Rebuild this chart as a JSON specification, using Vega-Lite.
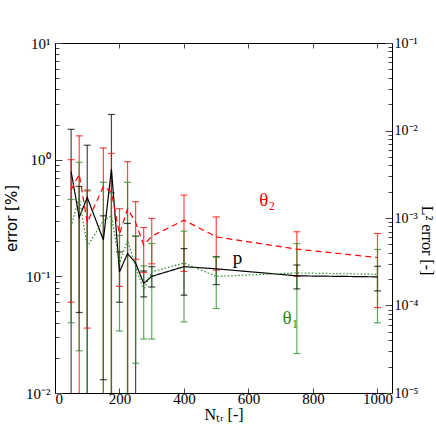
{
  "$schema": "https://vega.github.io/schema/vega-lite/v6.json",
  "width": 337,
  "height": 350,
  "autosize": {"type": "none"},
  "padding": {"left": 55, "top": 43, "right": 44, "bottom": 43},
  "background": "white",
  "config": {"view": {"stroke": null}},
  "datasets": {
    "err": [
      {"N": 50, "s": "p", "m": 0.79, "lo": 0.001, "hi": 1.82},
      {"N": 75, "s": "p", "m": 0.32, "lo": 0.049, "hi": 0.59},
      {"N": 100, "s": "p", "m": 0.475, "lo": 0.001, "hi": 1.33},
      {"N": 150, "s": "p", "m": 0.205, "lo": 0.013, "hi": 0.33},
      {"N": 175, "s": "p", "m": 0.83, "lo": 0.001, "hi": 2.44},
      {"N": 200, "s": "p", "m": 0.109, "lo": 0.06, "hi": 0.162},
      {"N": 225, "s": "p", "m": 0.157, "lo": 0.001, "hi": 0.284},
      {"N": 250, "s": "p", "m": 0.13, "lo": 0.001, "hi": 0.221},
      {"N": 275, "s": "p", "m": 0.087, "lo": 0.0667, "hi": 0.111},
      {"N": 300, "s": "p", "m": 0.1, "lo": 0.081, "hi": 0.121},
      {"N": 400, "s": "p", "m": 0.121, "lo": 0.069, "hi": 0.173},
      {"N": 500, "s": "p", "m": 0.116, "lo": 0.085, "hi": 0.147},
      {"N": 750, "s": "p", "m": 0.101, "lo": 0.078, "hi": 0.125},
      {"N": 1000, "s": "p", "m": 0.099, "lo": 0.075, "hi": 0.122},
      {"N": 50, "s": "t2", "m": 0.55, "lo": 0.06, "hi": 1.0},
      {"N": 75, "s": "t2", "m": 0.75, "lo": 0.001, "hi": 1.6},
      {"N": 100, "s": "t2", "m": 0.29, "lo": 0.036, "hi": 0.54},
      {"N": 150, "s": "t2", "m": 0.59, "lo": 0.001, "hi": 1.26},
      {"N": 175, "s": "t2", "m": 0.53, "lo": 0.001, "hi": 1.13},
      {"N": 200, "s": "t2", "m": 0.23, "lo": 0.082, "hi": 0.38},
      {"N": 225, "s": "t2", "m": 0.38, "lo": 0.001, "hi": 0.96},
      {"N": 250, "s": "t2", "m": 0.29, "lo": 0.14, "hi": 0.436},
      {"N": 275, "s": "t2", "m": 0.185, "lo": 0.108, "hi": 0.262},
      {"N": 300, "s": "t2", "m": 0.221, "lo": 0.128, "hi": 0.314},
      {"N": 400, "s": "t2", "m": 0.303, "lo": 0.11, "hi": 0.497},
      {"N": 500, "s": "t2", "m": 0.218, "lo": 0.113, "hi": 0.323},
      {"N": 750, "s": "t2", "m": 0.171, "lo": 0.1, "hi": 0.241},
      {"N": 1000, "s": "t2", "m": 0.145, "lo": 0.054, "hi": 0.233},
      {"N": 50, "s": "t1", "m": 0.266, "lo": 0.04, "hi": 0.456},
      {"N": 75, "s": "t1", "m": 0.48, "lo": 0.023, "hi": 0.95},
      {"N": 100, "s": "t1", "m": 0.18, "lo": 0.001, "hi": 0.55},
      {"N": 150, "s": "t1", "m": 0.3, "lo": 0.001, "hi": 0.64},
      {"N": 175, "s": "t1", "m": 0.33, "lo": 0.001, "hi": 0.52},
      {"N": 200, "s": "t1", "m": 0.129, "lo": 0.034, "hi": 0.224},
      {"N": 225, "s": "t1", "m": 0.204, "lo": 0.001, "hi": 0.64},
      {"N": 250, "s": "t1", "m": 0.121, "lo": 0.018, "hi": 0.22},
      {"N": 275, "s": "t1", "m": 0.076, "lo": 0.029, "hi": 0.123},
      {"N": 300, "s": "t1", "m": 0.109, "lo": 0.029, "hi": 0.191},
      {"N": 400, "s": "t1", "m": 0.13, "lo": 0.0407, "hi": 0.244},
      {"N": 500, "s": "t1", "m": 0.1, "lo": 0.053, "hi": 0.147},
      {"N": 750, "s": "t1", "m": 0.107, "lo": 0.0218, "hi": 0.191},
      {"N": 1000, "s": "t1", "m": 0.104, "lo": 0.04, "hi": 0.17}
    ],
    "labels": [
      {"N": 658, "v": 0.45, "s": "t2", "txt": "θ₂"},
      {"N": 566, "v": 0.143, "s": "p", "txt": "p"},
      {"N": 730, "v": 0.044, "s": "t1", "txt": "θ₁"}
    ],
    "right": [
      {"N": 0, "L": 0.00001},
      {"N": 1000, "L": 0.1}
    ]
  },
  "layer": [
    {
      "data": {"name": "err"},
      "encoding": {
        "x": {
          "field": "N", "type": "quantitative",
          "scale": {"domain": [0, 1045], "nice": false, "zero": false},
          "axis": {
            "orient": "bottom", "title": "Nₜᵣ [-]", "values": [0, 200, 400, 600, 800, 1000], "format": "d",
            "titleFont": "Liberation Serif", "titleFontSize": 16, "titleFontWeight": "normal", "titleColor": "black",
            "labelFont": "Liberation Serif", "labelFontSize": 15, "labelColor": "black",
            "tickSize": -5, "labelPadding": 3, "tickColor": "#444", "domainColor": "black", "grid": false, "titlePadding": 0
          }
        },
        "color": {
          "field": "s", "type": "nominal",
          "scale": {"domain": ["p", "t2", "t1"], "range": ["#000000", "#ff0000", "#228b22"]},
          "legend": null
        }
      },
      "layer": [
        {
          "mark": {"type": "rule", "clip": true, "opacity": 0.72, "strokeWidth": 1.2},
          "encoding": {
            "y": {
              "field": "lo", "type": "quantitative",
              "scale": {"type": "log", "domain": [0.01, 10], "nice": false},
              "axis": {
                "orient": "left", "title": "error [%]",
                "titleFont": "DejaVu Sans", "titleFontSize": 15, "titleFontWeight": "normal", "titleColor": "black",
                "values": [0.01, 0.02, 0.03, 0.04, 0.05, 0.06, 0.07, 0.08, 0.09, 0.1, 0.2, 0.3, 0.4, 0.5, 0.6, 0.7, 0.8, 0.9, 1, 2, 3, 4, 5, 6, 7, 8, 9, 10],
                "labelExpr": "datum.value == 10 ? '10¹' : datum.value == 1 ? '10⁰' : datum.value == 0.1 ? '10⁻¹' : datum.value == 0.01 ? '10⁻²' : ''",
                "labelFont": "Liberation Serif", "labelFontSize": 15, "labelColor": "black",
                "tickSize": {"condition": {"test": "indexof([0.01, 0.1, 1, 10], datum.value) >= 0", "value": -7}, "value": -4},
                "labelPadding": 12, "tickColor": "#444", "domainColor": "black", "grid": false, "titlePadding": 6
              }
            },
            "y2": {"field": "hi"}
          }
        },
        {
          "mark": {"type": "tick", "clip": true, "opacity": 0.72, "size": 7, "thickness": 1.2, "orient": "horizontal"},
          "encoding": {"y": {"field": "lo", "type": "quantitative"}}
        },
        {
          "mark": {"type": "tick", "clip": true, "opacity": 0.72, "size": 7, "thickness": 1.2, "orient": "horizontal"},
          "encoding": {"y": {"field": "hi", "type": "quantitative"}}
        },
        {
          "mark": {"type": "line", "clip": true, "strokeWidth": 1.2},
          "encoding": {
            "y": {"field": "m", "type": "quantitative"},
            "strokeDash": {
              "field": "s", "type": "nominal",
              "scale": {"domain": ["p", "t2", "t1"], "range": [[1, 0], [6, 4], [1.5, 2]]},
              "legend": null
            }
          }
        },
        {
          "data": {"name": "labels"},
          "mark": {"type": "text", "font": "Liberation Serif", "fontSize": 19, "align": "center", "baseline": "middle"},
          "encoding": {
            "y": {"field": "v", "type": "quantitative"},
            "text": {"field": "txt"}
          }
        }
      ]
    },
    {
      "data": {"name": "right"},
      "mark": {"type": "point", "opacity": 0},
      "encoding": {
        "x": {
          "field": "N", "type": "quantitative",
          "axis": {
            "orient": "top", "title": null, "labels": false, "values": [0, 200, 400, 600, 800, 1000],
            "tickSize": -5, "tickColor": "#444", "domainColor": "black", "grid": false
          }
        },
        "y": {
          "field": "L", "type": "quantitative",
          "scale": {"type": "log", "domain": [0.00001, 0.1], "nice": false},
          "axis": {
            "orient": "right", "title": "L² error [-]", "titleAngle": 90, "titleBaseline": "middle",
            "titleX": 34, "titleY": 197, "titleAlign": "center",
            "titleFont": "Liberation Serif", "titleFontSize": 16, "titleFontWeight": "normal", "titleColor": "black",
            "values": [0.00001, 0.00002, 0.00003, 0.00004, 0.00005, 0.00006, 0.00007, 0.00008, 0.00009, 0.0001, 0.0002, 0.0003, 0.0004, 0.0005, 0.0006, 0.0007, 0.0008, 0.0009, 0.001, 0.002, 0.003, 0.004, 0.005, 0.006, 0.007, 0.008, 0.009, 0.01, 0.02, 0.03, 0.04, 0.05, 0.06, 0.07, 0.08, 0.09, 0.1],
            "labelExpr": "datum.value == 0.1 ? '10⁻¹' : datum.value == 0.01 ? '10⁻²' : datum.value == 0.001 ? '10⁻³' : datum.value == 0.0001 ? '10⁻⁴' : datum.value == 0.00001 ? '10⁻⁵' : ''",
            "labelFont": "Liberation Serif", "labelFontSize": 14, "labelColor": "black",
            "tickSize": {"condition": {"test": "indexof([0.00001, 0.0001, 0.001, 0.01, 0.1], datum.value) >= 0", "value": -7}, "value": -4},
            "labelPadding": 9, "tickColor": "#444", "domainColor": "black", "grid": false
          }
        }
      }
    }
  ],
  "resolve": {"scale": {"y": "independent"}, "axis": {"x": "independent", "y": "independent"}}
}
